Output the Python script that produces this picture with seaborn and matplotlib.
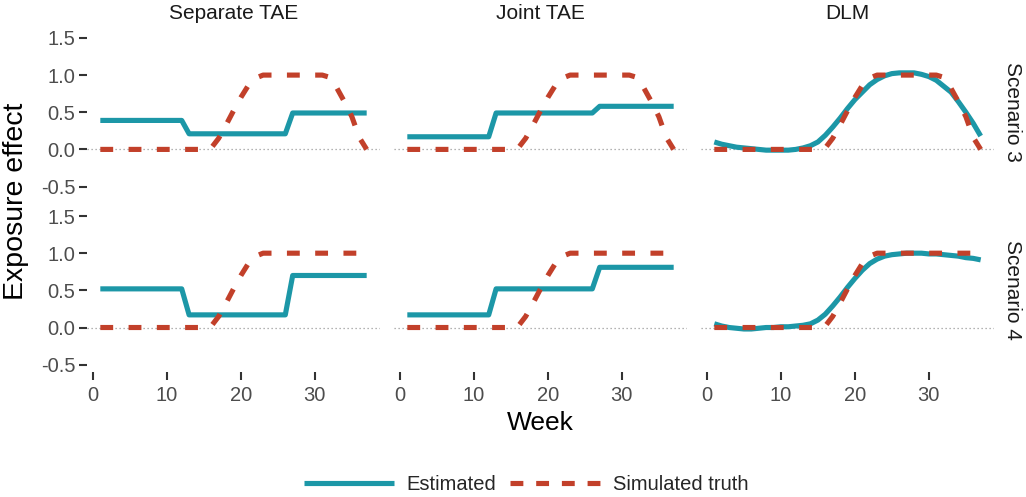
import numpy as np
import pandas as pd
import matplotlib
matplotlib.use("Agg")
import matplotlib.pyplot as plt
import seaborn as sns
from matplotlib.lines import Line2D

# ---------------- data ----------------
weeks = list(range(1, 38))
trimester_lengths = [12, 14, 11]  # weeks 1-12, 13-26, 27-37

methods = ["Separate TAE", "Joint TAE", "DLM"]
scenarios = ["Scenario 3", "Scenario 4"]

# simulated truth (per week)
truth_s3 = [0, 0, 0, 0, 0, 0, 0, 0, 0, 0, 0, 0, 0, 0, 0,
            0.02, 0.15, 0.33, 0.52, 0.70, 0.86, 0.96, 1.0,
            1.0, 1.0, 1.0, 1.0, 1.0, 1.0, 1.0, 1.0,
            0.97, 0.82, 0.64, 0.44, 0.16, 0.0]
truth_s4 = [0, 0, 0, 0, 0, 0, 0, 0, 0, 0, 0, 0, 0, 0, 0,
            0.02, 0.15, 0.33, 0.52, 0.70, 0.86, 0.96, 1.0,
            1.0, 1.0, 1.0, 1.0, 1.0, 1.0, 1.0, 1.0,
            1.0, 1.0, 1.0, 1.0, 1.0, 1.0]

# trimester-average estimates (one level per trimester)
sep_tae_s3 = [0.39, 0.21, 0.49]
sep_tae_s4 = [0.52, 0.17, 0.70]
joint_tae_s3 = [0.17, 0.49, 0.58]
joint_tae_s4 = [0.17, 0.52, 0.81]

# DLM estimates (per week)
dlm_s3 = [0.10, 0.07, 0.05, 0.03, 0.02, 0.01, 0.0, -0.01, -0.01, -0.01,
          -0.01, 0.0, 0.02, 0.05, 0.10, 0.19, 0.30, 0.42, 0.55, 0.67,
          0.77, 0.87, 0.94, 0.99, 1.02, 1.03, 1.03, 1.03, 1.01, 0.98,
          0.93, 0.85, 0.77, 0.64, 0.50, 0.35, 0.18]
dlm_s4 = [0.05, 0.02, 0.0, -0.01, -0.02, -0.02, -0.01, 0.0, 0.0, 0.01,
          0.01, 0.02, 0.03, 0.05, 0.10, 0.18, 0.29, 0.41, 0.54, 0.66,
          0.77, 0.86, 0.92, 0.96, 0.98, 0.99, 1.0, 1.0, 1.0, 0.99,
          0.99, 0.98, 0.97, 0.96, 0.94, 0.93, 0.91]

y_ticks = [-0.5, 0.0, 0.5, 1.0, 1.5]
y_tick_labels = ["-0.5", "0.0", "0.5", "1.0", "1.5"]
x_ticks = [0, 10, 20, 30]

# ---------------- long table ----------------
estimates = {
    ("Separate TAE", "Scenario 3"): np.repeat(sep_tae_s3, trimester_lengths),
    ("Separate TAE", "Scenario 4"): np.repeat(sep_tae_s4, trimester_lengths),
    ("Joint TAE", "Scenario 3"): np.repeat(joint_tae_s3, trimester_lengths),
    ("Joint TAE", "Scenario 4"): np.repeat(joint_tae_s4, trimester_lengths),
    ("DLM", "Scenario 3"): np.array(dlm_s3),
    ("DLM", "Scenario 4"): np.array(dlm_s4),
}
truths = {"Scenario 3": truth_s3, "Scenario 4": truth_s4}

rows = []
for (m, s), est in estimates.items():
    for w, e, t in zip(weeks, est, truths[s]):
        rows.append((m, s, w, "Estimated", float(e)))
        rows.append((m, s, w, "Simulated truth", float(t)))
df = pd.DataFrame(rows, columns=["Method", "Scenario", "Week", "Series", "Effect"])

# ---------------- style ----------------
sns.set_theme(style="white")
plt.rcParams["font.family"] = ["Liberation Sans", "DejaVu Sans"]

teal = "#1c97a7"
red = "#c2402a"
lw = 3.7
dash = (0, (2.5, 3.0))
legend_dash = (0, (2.5, 2.5))
tick_fs = 14.5
strip_fs = 15

W, H = 1026, 497
fig = plt.figure(figsize=(W / 100, H / 100), dpi=100)

panel_lefts = [87, 394, 701]
panel_w = 293
row_tops = [30.5, 208.6]
panel_h = 163.5

for r, scen in enumerate(scenarios):
    for c, meth in enumerate(methods):
        ax = fig.add_axes([panel_lefts[c] / W, 1 - (row_tops[r] + panel_h) / H,
                           panel_w / W, panel_h / H])
        sub = df[(df.Method == meth) & (df.Scenario == scen)]
        ax.axhline(0, color="#9a9a9a", lw=0.9, ls=(0, (1, 2.2)), zorder=1)
        est = sub[sub.Series == "Estimated"]
        tru = sub[sub.Series == "Simulated truth"]
        sns.lineplot(data=est, x="Week", y="Effect", color=teal, lw=lw,
                     ax=ax, zorder=2, solid_capstyle="butt",
                     solid_joinstyle="round")
        sns.lineplot(data=tru, x="Week", y="Effect", color=red, lw=lw,
                     ax=ax, zorder=3, linestyle=dash, dash_capstyle="butt")
        ax.set_xlim(-0.8, 38.8)
        ax.set_ylim(-0.6, 1.6)
        for sp in ax.spines.values():
            sp.set_visible(False)
        ax.set_xlabel("")
        ax.set_ylabel("")
        ax.grid(False)
        ax.tick_params(axis="both", length=5.5, width=1.5, color="#333333",
                       labelsize=tick_fs, labelcolor="#4d4d4d", pad=3)
        ax.tick_params(axis="x", pad=4.5)
        if c == 0:
            ax.set_yticks(y_ticks)
            ax.set_yticklabels(y_tick_labels)
            ax.tick_params(axis="y", left=True)
        else:
            ax.set_yticks([])
        if r == 1:
            ax.set_xticks(x_ticks)
            ax.tick_params(axis="x", bottom=True)
        else:
            ax.set_xticks([])
        if r == 0:
            ax.set_title(meth, fontsize=strip_fs, color="#1a1a1a", pad=8)
        if c == 2:
            ax.text(1.064, 0.5, scen, transform=ax.transAxes, rotation=-90,
                    ha="center", va="center", fontsize=strip_fs, color="#1a1a1a")

fig.text(16 / W, 1 - 201 / H, "Exposure effect", rotation=90, ha="center",
         va="center", fontsize=20.5, color="black")
fig.text(540 / W, 1 - 423 / H, "Week", ha="center", va="center",
         fontsize=19, color="black")

handles = [Line2D([], [], color=teal, lw=lw, solid_capstyle="butt"),
           Line2D([], [], color=red, lw=lw, linestyle=legend_dash,
                  dash_capstyle="butt")]
fig.legend(handles, ["Estimated", "Simulated truth"], loc="center",
           bbox_to_anchor=(526 / W, 1 - 485 / H), ncol=2, frameon=False,
           fontsize=14.5, handlelength=4.5, handletextpad=0.6,
           columnspacing=0.7)

fig.savefig("out.png", dpi=100)
